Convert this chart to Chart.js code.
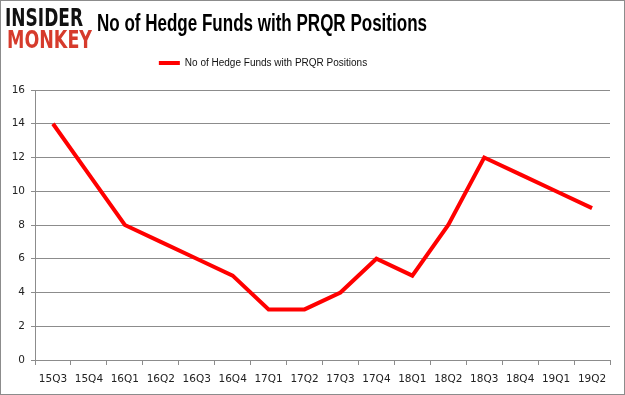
<!DOCTYPE html>
<html>
<head>
<meta charset="utf-8">
<script src="https://cdn.jsdelivr.net/npm/chart.js@4"></script>
<style>
  html, body { margin: 0; padding: 0; background: #fff; }
  #wrap { position: relative; width: 625px; height: 395px; overflow: hidden; }
  #frame { position: absolute; left: 0; top: 0; width: 623px; height: 393px; border: 1px solid #8c8c8c; pointer-events: none; }
  canvas { position: absolute; left: 0; top: 0; }
  .logo { position: absolute; font-family: "DejaVu Sans", sans-serif; font-weight: bold; line-height: 1; white-space: nowrap; transform-origin: 0 0; }
  #logo1 { left: 5px; top: 5px; font-size: 25px; color: #111; }
  #logo2 { left: 7px; top: 27px; font-size: 25px; color: #d63b2c; }
  #title { position: absolute; left: 97px; top: 10px; font-family: "Liberation Sans", Arial, sans-serif; font-weight: bold; font-size: 23px; color: #000; white-space: nowrap; transform-origin: 0 0; }
</style>
</head>
<body>
<div id="wrap">
  <canvas id="chart" width="625" height="395"></canvas>
  <div class="logo" id="logo1">INSIDER</div>
  <div class="logo" id="logo2">MONKEY</div>
  <div id="title">No of Hedge Funds with PRQR Positions</div>
  <div id="frame"></div>
</div>
<script>
"use strict";

// datos
const trimestres = ["15Q3", "15Q4", "16Q1", "16Q2", "16Q3", "16Q4", "17Q1", "17Q2",
  "17Q3", "17Q4", "18Q1", "18Q2", "18Q3", "18Q4", "19Q1", "19Q2"];
const fondos = [14, 11, 8, 7, 6, 5, 3, 3, 4, 6, 5, 8, 12, 11, 10, 9];
const serieNombre = "No of Hedge Funds with PRQR Positions";
const yTicks = [0, 2, 4, 6, 8, 10, 12, 14, 16];

// encoger textos HTML al ancho del original
function ajustarAncho(id, ancho) {
  const el = document.getElementById(id);
  const w = el.getBoundingClientRect().width;
  el.style.transform = "scaleX(" + (ancho / w) + ")";
}
ajustarAncho("title", 330);
ajustarAncho("logo1", 78);
ajustarAncho("logo2", 85);

const gris = "#8c8c8c";
const fuenteEje = { family: "DejaVu Sans", size: 10.5 };

// mover la leyenda a donde está en el original
const moverLeyenda = {
  id: "moverLeyenda",
  afterLayout(chart) {
    const l = chart.legend;
    l.left -= 42; l.right -= 42;
    l.top -= 12; l.bottom -= 12;
  },
};

new Chart(document.getElementById("chart"), {
  type: "line",
  data: {
    labels: trimestres,
    datasets: [{
      label: serieNombre,
      data: fondos,
      borderColor: "#ff0000",
      backgroundColor: "#ff0000",
      borderWidth: 4,
      pointRadius: 0,
      tension: 0,
    }],
  },
  plugins: [moverLeyenda],
  options: {
    responsive: false,
    animation: false,
    layout: { padding: { top: 64, right: 15, bottom: 0, left: 0 } },
    plugins: {
      tooltip: { enabled: false },
      legend: {
        position: "top",
        labels: {
          boxWidth: 21,
          boxHeight: 0,
          padding: 6,
          color: "#111",
          font: { family: "Liberation Sans", size: 10 },
        },
      },
    },
    scales: {
      x: {
        offset: true,
        grid: { offset: true, drawOnChartArea: false, drawTicks: true, tickLength: 5, color: gris },
        border: { color: gris },
        ticks: { color: "#222", font: fuenteEje, maxRotation: 0, autoSkip: false, padding: 8 },
        afterFit(scale) { scale.height = 35; },
      },
      y: {
        min: 0,
        max: 16,
        afterBuildTicks(scale) { scale.ticks = yTicks.map(v => ({ value: v })); },
        grid: { color: gris, tickLength: 4 },
        border: { color: gris },
        ticks: { color: "#222", font: fuenteEje, padding: 6 },
        afterFit(scale) { scale.width = 35; },
      },
    },
  },
});
</script>
</body>
</html>
